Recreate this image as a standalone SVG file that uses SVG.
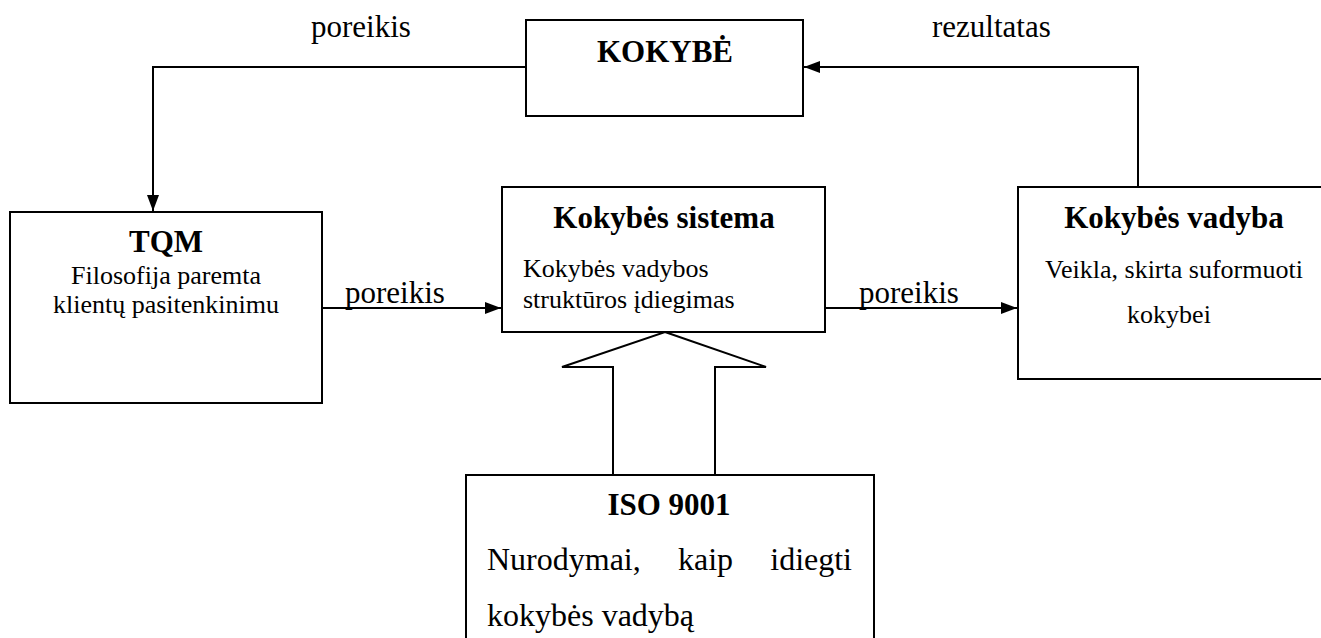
<svg xmlns="http://www.w3.org/2000/svg" width="1321" height="638" viewBox="0 0 1321 638">
  <style>
    .box { fill: #ffffff; stroke: #000000; stroke-width: 2; }
    .line { fill: none; stroke: #000000; stroke-width: 2; }
    text { font-family: "Liberation Serif", Tinos, "Noto Serif", "DejaVu Serif", serif; fill: #000000; font-weight: 400; }
    .title { font-weight: 700; font-size: 31px; }
    .body { font-size: 26px; }
    .big { font-size: 32px; }
    .label { font-size: 31px; }
    .mid { text-anchor: middle; }
  </style>
  <defs>
    <marker id="arrow" viewBox="0 0 16 12" refX="16" refY="6" markerWidth="16" markerHeight="12" markerUnits="userSpaceOnUse" orient="auto">
      <path d="M0,0 L16,6 L0,12 Z" fill="#000000"/>
    </marker>
  </defs>

  <rect width="1321" height="638" fill="#ffffff"/>

  <!-- connectors -->
  <g id="connectors">
    <polyline class="line" points="526,67 153,67 153,211" marker-end="url(#arrow)"/>
    <polyline class="line" points="1138,187 1138,67 804,67" marker-end="url(#arrow)"/>
    <line class="line" x1="322" y1="308" x2="501" y2="308" marker-end="url(#arrow)"/>
    <line class="line" x1="825" y1="308" x2="1017" y2="308" marker-end="url(#arrow)"/>
    <!-- hollow block arrow from ISO 9001 up to the system box -->
    <polygon class="box" points="665,332 766,367 715,367 715,475 613,475 613,367 562,367"/>
    <text class="label" x="311" y="37">poreikis</text>
    <text class="label" x="932" y="37">rezultatas</text>
    <text class="label" x="345" y="303">poreikis</text>
    <text class="label" x="859" y="303">poreikis</text>
  </g>

  <g id="node-kokybe">
    <rect class="box" x="526" y="20" width="277" height="96"/>
    <text class="title mid" x="665" y="62">KOKYBĖ</text>
  </g>

  <g id="node-tqm">
    <rect class="box" x="10" y="212" width="312" height="191"/>
    <text class="title mid" x="166" y="252">TQM</text>
    <text class="body mid" x="166" y="284">Filosofija paremta</text>
    <text class="body mid" x="166" y="313">klientų pasitenkinimu</text>
  </g>

  <g id="node-sistema">
    <rect class="box" x="502" y="187" width="323" height="145"/>
    <text class="title mid" x="664" y="228">Kokybės sistema</text>
    <text class="body" x="523" y="277">Kokybės vadybos</text>
    <text class="body" x="523" y="308">struktūros įdiegimas</text>
  </g>

  <g id="node-vadyba">
    <rect class="box" x="1018" y="187" width="310" height="192"/>
    <text class="title mid" x="1174" y="228">Kokybės vadyba</text>
    <text class="body mid" x="1174" y="278">Veikla, skirta suformuoti</text>
    <text class="body mid" x="1169" y="323">kokybei</text>
  </g>

  <g id="node-iso">
    <rect class="box" x="466" y="475" width="408" height="180"/>
    <text class="title mid" x="669" y="515">ISO 9001</text>
    <text class="big" x="487" y="570">Nurodymai,</text>
    <text class="big" x="678" y="570">kaip</text>
    <text class="big" x="852" y="570" text-anchor="end">idiegti</text>
    <text class="big" x="487" y="626">kokybės vadybą</text>
  </g>
</svg>
